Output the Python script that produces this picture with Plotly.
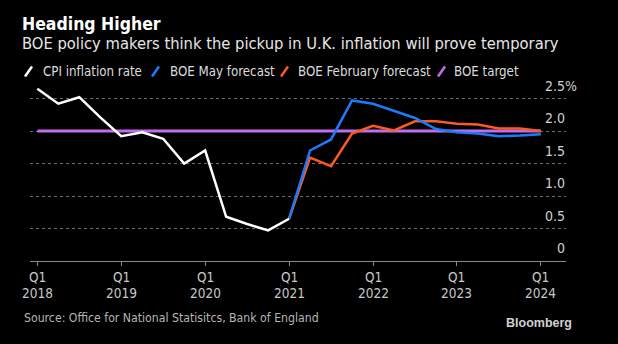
import plotly.graph_objects as go

# Quarter index 0 = Q1 2018 ... 24 = Q1 2024
cpi_q = list(range(0, 13))
cpi = [2.65, 2.42, 2.52, 2.21, 1.92, 1.98, 1.88, 1.5, 1.7, 0.68, 0.57, 0.47, 0.65]

fcst_q = list(range(12, 25))
may_fcst = [0.65, 1.7, 1.87, 2.47, 2.42, 2.31, 2.2, 2.03, 1.98, 1.96, 1.92, 1.93, 1.95]
feb_fcst = [0.65, 1.59, 1.46, 1.96, 2.08, 2.01, 2.15, 2.15, 2.11, 2.1, 2.04, 2.04, 2.0]

target_q = [0, 24]
target = [2.0, 2.0]

tick_q = [0, 4, 8, 12, 16, 20, 24]
tick_quarter = ["Q1"] * 7
tick_year = ["2018", "2019", "2020", "2021", "2022", "2023", "2024"]
y_ticks = [0, 0.5, 1.0, 1.5, 2.0, 2.5]
y_tick_text = ["0", "0.5", "1.0", "1.5", "2.0", "2.5"]

WHITE = "#ffffff"
BLUE = "#1a7bff"
ORANGE = "#fb5a22"
PURPLE = "#c46cf0"

FONT = "Liberation Sans Narrow, DejaVu Sans Condensed, Arial Narrow, sans-serif"

W, H = 618, 344
L, R, T, B = 30, 52, 85, 83
PW, PH = W - L - R, H - T - B


def px(x):
    return (x - L) / PW


def py(y):
    return (H - B - y) / PH


fig = go.Figure()

fig.add_trace(go.Scatter(x=target_q, y=target, mode="lines",
                         line=dict(color=PURPLE, width=3), name="BOE target"))
fig.add_trace(go.Scatter(x=fcst_q, y=feb_fcst, mode="lines",
                         line=dict(color=ORANGE, width=2.5), name="BOE February forecast"))
fig.add_trace(go.Scatter(x=fcst_q, y=may_fcst, mode="lines",
                         line=dict(color=BLUE, width=2.5), name="BOE May forecast"))
fig.add_trace(go.Scatter(x=cpi_q, y=cpi, mode="lines",
                         line=dict(color=WHITE, width=2.5), name="CPI inflation rate"))

annotations = []
shapes = []

# Title block
annotations.append(dict(text="<b>Heading Higher</b>", x=px(20), y=py(24), xref="paper", yref="paper",
                        xanchor="left", yanchor="middle", showarrow=False,
                        font=dict(family=FONT, size=17.5, color="#ffffff")))
annotations.append(dict(text="BOE policy makers think the pickup in U.K. inflation will prove temporary",
                        x=px(20), y=py(43), xref="paper", yref="paper",
                        xanchor="left", yanchor="middle", showarrow=False,
                        font=dict(family=FONT, size=16.4, color="#e6e6e6")))

# Legend with slanted strokes
legend_items = [("CPI inflation rate", WHITE, 25, 40.7),
                ("BOE May forecast", BLUE, 152, 167.5),
                ("BOE February forecast", ORANGE, 281, 295.5),
                ("BOE target", PURPLE, 438, 452)]
for label, color, sx, tx in legend_items:
    shapes.append(dict(type="line", xref="paper", yref="paper",
                       x0=px(sx), y0=py(76.5), x1=px(sx + 7), y1=py(66.5),
                       line=dict(color=color, width=2.5)))
    annotations.append(dict(text=label, x=px(tx), y=py(71.5), xref="paper", yref="paper",
                            xanchor="left", yanchor="middle", showarrow=False,
                            font=dict(family=FONT, size=13.2, color="#dcdcdc")))

# Y tick labels on the right, sitting above their gridlines
for v, t in zip(y_ticks, y_tick_text):
    annotations.append(dict(text=t, x=px(567), y=v, xref="paper", yref="y",
                            xanchor="right", yanchor="bottom", yshift=3, showarrow=False,
                            font=dict(family=FONT, size=14, color="#cfcfcf")))
annotations.append(dict(text="%", x=px(563), y=y_ticks[-1], xref="paper", yref="y",
                        xanchor="left", yanchor="bottom", yshift=3, showarrow=False,
                        font=dict(family=FONT, size=14, color="#cfcfcf")))

# X tick labels: quarter on the first line, year below
for q, qt, yr in zip(tick_q, tick_quarter, tick_year):
    annotations.append(dict(text=qt, x=q, y=py(277), xref="x", yref="paper",
                            xanchor="center", yanchor="middle", showarrow=False,
                            font=dict(family=FONT, size=13.5, color="#c8c8c8")))
    annotations.append(dict(text=yr, x=q, y=py(293), xref="x", yref="paper",
                            xanchor="center", yanchor="middle", showarrow=False,
                            font=dict(family=FONT, size=13.5, color="#c8c8c8")))

# Footer
annotations.append(dict(text="Source: Office for National Statisitcs, Bank of England",
                        x=px(22), y=py(318), xref="paper", yref="paper",
                        xanchor="left", yanchor="middle", showarrow=False,
                        font=dict(family=FONT, size=12.2, color="#b5b5b5")))
annotations.append(dict(text="<b>Bloomberg</b>", x=px(574), y=py(323), xref="paper", yref="paper",
                        xanchor="right", yanchor="middle", showarrow=False,
                        font=dict(family="Liberation Sans, Arial, sans-serif", size=12.5, color="#d0d0d0")))

fig.update_layout(
    width=W, height=H,
    margin=dict(l=L, r=R, t=T, b=B),
    paper_bgcolor="#000000", plot_bgcolor="#000000",
    showlegend=False,
    annotations=annotations, shapes=shapes,
    font=dict(family=FONT, color="#cfcfcf"),
    xaxis=dict(range=[-0.35, 25.2], tickvals=tick_q, showticklabels=False,
               showgrid=False, zeroline=False, showline=True, linecolor="#8a8a8a", linewidth=1,
               ticks="outside", ticklen=4, tickcolor="#8a8a8a", fixedrange=True),
    yaxis=dict(range=[0, PH / 65.0], tickvals=y_ticks[1:], showticklabels=False,
               showgrid=True, gridcolor="#6a6a6a", griddash="dot", gridwidth=1,
               zeroline=False, showline=False, ticks="", fixedrange=True),
)

fig.write_html("out.html")
